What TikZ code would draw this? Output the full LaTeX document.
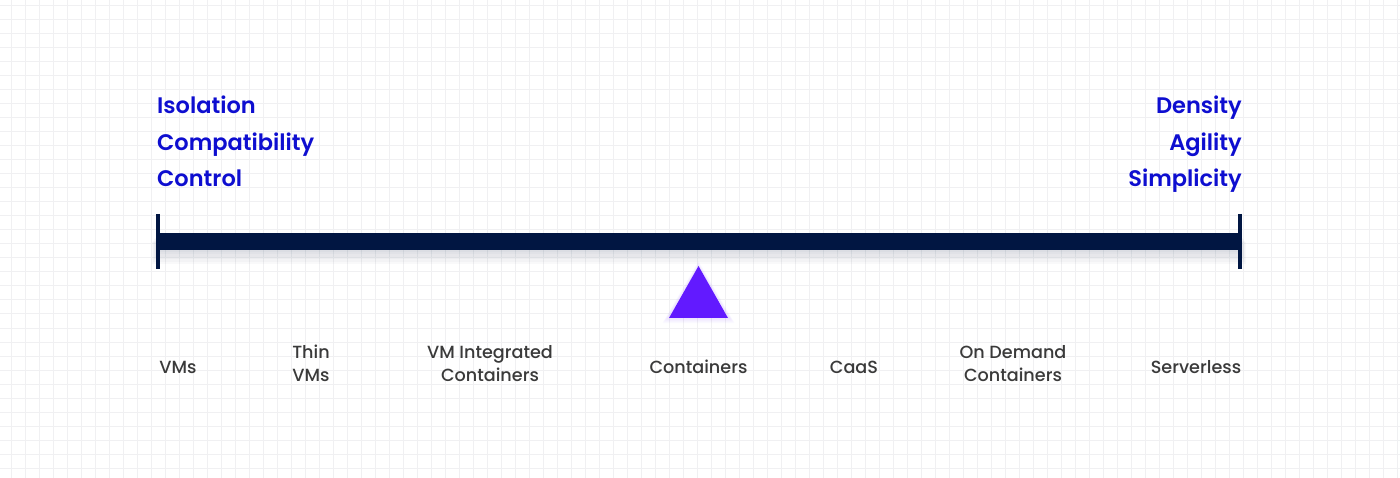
\documentclass[tikz,border=0pt]{standalone}
\usepackage{fontspec}
\setmainfont{Poppins}
\newfontfamily\traitfont{Poppins}[UprightFont=* SemiBold]
\newfontfamily\kindfont{Poppins}[UprightFont=* Medium]
\usetikzlibrary{positioning,calc}
\definecolor{gridgray}{RGB}{240,240,242}
\definecolor{barnavy}{RGB}{1,22,66}
\definecolor{textblue}{RGB}{14,14,208}
\definecolor{textgray}{RGB}{58,58,58}
\definecolor{pointer}{RGB}{98,26,255}
\tikzset{
	spectrum/.style={x=1pt,y=-1pt},
	gridline/.style={gridgray,line width=1pt},
	trait/.style={font=\fontsize{22.5}{26}\traitfont,text=textblue,inner sep=0pt},
	kind/.style={font=\fontsize{17.6}{22.5}\kindfont,text=textgray,align=center,inner sep=0pt},
	axis/.style={barnavy,line width=17pt},
	endtick/.style={barnavy,line width=4pt},
	glow/.style={fill=barnavy,opacity=0.025}
}

\begin{document}
\begin{tikzpicture}[spectrum]
	\useasboundingbox (0,0) rectangle (1400,478);
	\fill[white] (0,0) rectangle (1400,478);
	
	% background grid
	\foreach \i in {0,...,99}
		\draw[gridline] ({11.7+14*\i},0) -- ({11.7+14*\i},478);
	\foreach \j in {0,...,33}
		\draw[gridline] (0,{6+14*\j}) -- (1400,{6+14*\j});
	
	% the scale
	\coordinate (lo) at (158,241.5);
	\coordinate (hi) at (1240,241.5);
	\foreach \k in {1,...,6}
		\fill[glow] ($(lo)+(-\k,-8+1.5*\k)$) rectangle ($(hi)+(\k,8+2.5*\k)$);
	\draw[axis] (lo) -- (hi);
	\draw[endtick] ($(lo)+(0,-27.5)$) -- ($(lo)+(0,27.5)$);
	\draw[endtick] ($(hi)+(0,-27.5)$) -- ($(hi)+(0,27.5)$);
	
	% pointer
	\coordinate (tip) at (698.5,266);
	\foreach \k in {1,...,5}
		\fill[pointer,opacity=0.02] ($(tip)+(-31-\k,52+\k)$) -- ($(tip)+(0,-\k)$) -- ($(tip)+(31+\k,52+\k)$) -- cycle;
	\fill[pointer] ($(tip)+(-29.5,52)$) -- (tip) -- ($(tip)+(29.5,52)$) -- cycle;
	
	% left traits
	\node[trait,anchor=base west] (iso) at (157,114) {Isolation};
	\node[trait,anchor=base west] (compat) at (157,150.5) {Compatibility};
	\node[trait,anchor=base west] (ctrl) at (157,187) {Control};
	
	% right traits
	\node[trait,anchor=base east] (dens) at (1242,114) {Density};
	\node[trait,anchor=base east] (agil) at (1242,150.5) {Agility};
	\node[trait,anchor=base east] (simp) at (1242,187) {Simplicity};
	
	% kinds of workload
	\node[kind] (vms) at (178,367) {VMs};
	\node[kind] (thin) at (311,363.5) {Thin\\VMs};
	\node[kind] (vmint) at (490,363.5) {VM Integrated\\Containers};
	\node[kind] (cont) at (698.5,367) {Containers};
	\node[kind] (caas) at (854,367) {CaaS};
	\node[kind] (ondem) at (1013,363.5) {On Demand\\Containers};
	\node[kind] (svl) at (1196,367) {Serverless};
\end{tikzpicture}
\end{document}
